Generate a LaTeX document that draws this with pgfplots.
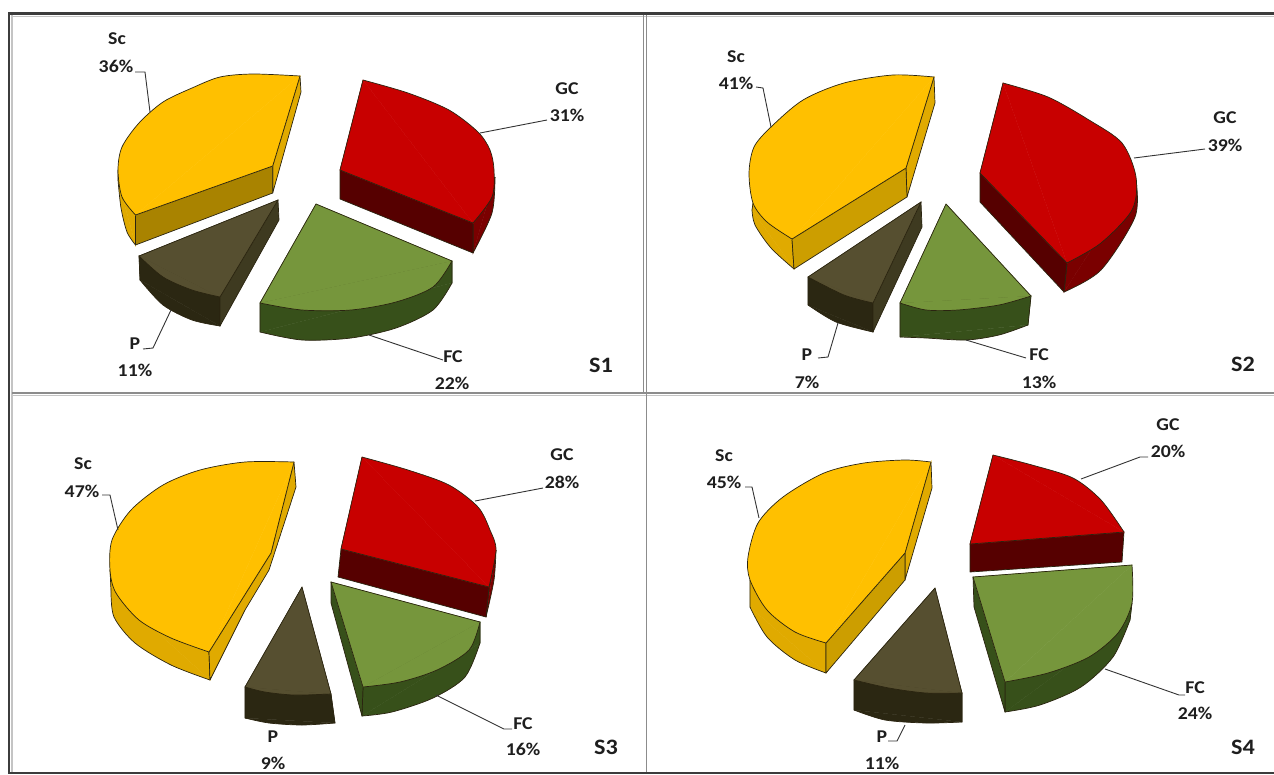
\documentclass[border=0pt]{standalone}
\usepackage{fontspec}
\setmainfont{Carlito}
\usepackage{graphicx}
\usepackage{pgfplots}
\pgfplotsset{compat=1.18}
\definecolor{frameDark}{HTML}{3C3C3C}
\definecolor{frameGrey}{HTML}{8C8C8C}
\definecolor{frameLight}{HTML}{C4C4C4}
\definecolor{edgeC}{HTML}{2A2410}
\definecolor{ScTop}{HTML}{FFC000}
\definecolor{ScIn}{HTML}{A98300}
\definecolor{ScMid}{HTML}{CC9E00}
\definecolor{ScOut}{HTML}{E0AA00}
\definecolor{GCTop}{HTML}{C80000}
\definecolor{GCIn}{HTML}{560000}
\definecolor{GCOut}{HTML}{7A0000}
\definecolor{FCTop}{HTML}{76963C}
\definecolor{FCSide}{HTML}{37501A}
\definecolor{PTop}{HTML}{564F30}
\definecolor{PSide}{HTML}{2B2712}
\definecolor{PIn}{HTML}{3E3A20}
\definecolor{txt}{HTML}{1E1E1E}
\newcommand{\lab}[3]{\node[text=txt,inner sep=0pt,font=\fontsize{18}{18}\selectfont\bfseries] at (axis cs:#1,#2) {\scalebox{1.1}[1]{#3}};}
\newcommand{\tag}[3]{\node[text=txt,inner sep=0pt,font=\fontsize{22}{22}\selectfont\bfseries] at (axis cs:#1,#2) {\scalebox{1.1}[1]{#3}};}
\pgfplotsset{
  face/.style={fill=#1,draw=edgeC,line width=0.7pt,line join=round,mark=none},
  leader/.style={draw=black!80,line width=0.9pt,mark=none},
  rule/.style={draw=#1,mark=none}
}
% a curved piece: #1 colour, #2 the straight outline joining the curve's two ends, #3 the curve
\newcommand{\curved}[3]{%
  \addplot[fill=#1,draw=#1,line width=0.5pt,mark=none] coordinates {#2} --cycle;
  \addplot[fill=#1,draw=edgeC,line width=0.7pt,smooth,mark=none] coordinates {#3};
  \addplot[draw=edgeC,line width=0.7pt,line join=round,mark=none] coordinates {#2};
}
\begin{document}
\begin{tikzpicture}
\path[use as bounding box] (0,0) rectangle (1274pt,774pt);
\begin{axis}[
  scale only axis,width=1274pt,height=774pt,
  xmin=0,xmax=1274,ymin=0,ymax=774,y dir=reverse,
  hide axis,clip=true]

% panel frame
\addplot[rule=frameDark,line width=3pt] coordinates {(8,13) (1274,13)};
\addplot[rule=frameDark,line width=2pt] coordinates {(9,13) (9,774)};
\addplot[rule=frameLight,line width=1.5pt] coordinates {(12,15) (12,774)};
\addplot[rule=frameLight,line width=1pt] coordinates {(12,16) (1274,16)};
\addplot[rule=frameGrey,line width=1.5pt] coordinates {(12,393) (1274,393)};
\addplot[rule=frameLight,line width=1pt] coordinates {(12,395) (1274,395)};
\addplot[rule=frameGrey,line width=1pt] coordinates {(643,15) (643,393)};
\addplot[rule=frameGrey,line width=1pt] coordinates {(646,15) (646,393)};
\addplot[rule=frameGrey,line width=1pt] coordinates {(646,393) (646,774)};
\addplot[rule=frameDark,line width=2pt] coordinates {(9,773) (1274,773)};

% ---------- S1 ----------
\curved{ScOut}{(118,180) (118,170) (135.5,215) (135.5,245)}{(118,180) (121,208) (127,232) (135.5,245)}
\addplot[face=ScOut] coordinates {(300,76) (272.7,166) (272.7,193) (301,92)} --cycle;
\addplot[face=ScIn] coordinates {(135.5,215) (272.7,166) (272.7,193) (135.5,245)} --cycle;
\curved{ScTop}{(300,76) (272.7,166) (135.5,215)}{(300,76) (253,74) (220,77) (192,88) (163,102) (139,123) (122,147) (118,170) (122,197) (135.5,215)}
\curved{GCOut}{(495,177) (473,223) (473,253)}{(495,177) (492,213) (473,253)}
\addplot[face=GCIn] coordinates {(340,170) (473,223) (473,253) (340,199)} --cycle;
\curved{GCTop}{(363,80) (340,170) (473,223)}{(363,80) (408,93) (449,110) (478,132) (490,150) (494,170) (492,197) (473,223)}
\curved{FCSide}{(260,332) (260,303) (452,261) (452,283)}{(260,332) (302,340) (351,338) (396,328) (433,310) (452,283)}
\curved{FCTop}{(452,261) (316,204) (260,303)}{(452,261) (433,287) (396,302) (351,310) (302,310) (260,303)}
\curved{PSide}{(140,280) (139,256) (220,297) (220,326)}{(140,280) (163,305) (192,320) (220,326)}
\addplot[face=PIn] coordinates {(278,200) (220,297) (220,326) (279,220)} --cycle;
\curved{PTop}{(220,297) (278,200) (139,256)}{(220,297) (192,290) (163,277) (139,256)}
\addplot[leader] coordinates {(135,72) (145,72) (150,112)};
\addplot[leader] coordinates {(480,133) (547,120)};
\addplot[leader] coordinates {(369,335) (443,360)};
\addplot[leader] coordinates {(171,310) (153,348) (143,349)};
\lab{117}{39}{Sc}\lab{116}{66}{36\%}
\lab{567}{89}{GC}\lab{567}{115}{31\%}
\lab{453}{357}{FC}\lab{452}{383}{22\%}
\lab{135}{344}{P}\lab{135}{370}{11\%}
\tag{601}{365}{S1}

% ---------- S2 ----------
\curved{ScOut}{(752,210) (753,203) (792,239) (794,269)}{(752,210) (755,225) (771,248) (794,269)}
\addplot[face=ScOut] coordinates {(934,77) (906,168) (907,197) (935,103)} --cycle;
\addplot[face=ScMid] coordinates {(792,239) (906,168) (907,197) (794,269)} --cycle;
\curved{ScTop}{(934,77) (906,168) (792,239)}{(934,77) (893,75) (844,83) (803,100) (771,127) (754,147) (749,173) (753,203) (767,222) (792,239)}
\curved{GCOut}{(1136,180) (1067,263) (1064,292)}{(1136,180) (1135,217) (1101,270) (1064,292)}
\addplot[face=GCIn] coordinates {(980,173) (1067,263) (1064,292) (980,202)} --cycle;
\curved{GCTop}{(1003,83) (980,173) (1067,263)}{(1003,83) (1048,97) (1089,120) (1122,143) (1136,177) (1132,210) (1101,243) (1067,263)}
\curved{FCSide}{(900,337) (900,303) (1031,296) (1028,325)}{(900,337) (926,338) (966,340) (999,335) (1028,325)}
\curved{FCTop}{(1031,296) (946,204) (900,303)}{(1031,296) (999,305) (958,310) (926,310) (900,303)}
\curved{PSide}{(808,305) (808,277) (873,303) (873,332)}{(808,305) (836,322) (873,332)}
\addplot[face=PIn] coordinates {(921,202) (873,303) (873,332) (922,227)} --cycle;
\curved{PTop}{(873,303) (921,202) (808,277)}{(873,303) (844,295) (808,277)}
\addplot[leader] coordinates {(756,87) (763,88) (771,127)};
\addplot[leader] coordinates {(1134,158) (1205,149)};
\addplot[leader] coordinates {(966,340) (1026,358)};
\addplot[leader] coordinates {(838,323) (828,357) (818,358)};
\lab{736}{57}{Sc}\lab{736}{83}{41\%}
\lab{1225}{118}{GC}\lab{1225}{145}{39\%}
\lab{1039}{355}{FC}\lab{1039}{382}{13\%}
\lab{807}{355}{P}\lab{807}{382}{7\%}
\tag{1243}{364}{S2}

% ---------- S3 ----------
\curved{ScOut}{(111,590) (110,570) (209,652) (210,680)}{(111,590) (114,617) (135,643) (171,665) (210,680)}
\addplot[face=ScOut] coordinates {(209,652) (271,553) (294,462) (296,487) (269,570) (245,610) (210,680)} --cycle;
\curved{ScTop}{(294,462) (271,553) (209,652)}{(294,462) (245,462) (200,470) (163,485) (131,510) (112,540) (110,570) (116,593) (139,620) (171,638) (209,652)}
\curved{GCOut}{(496,550) (489,587) (486,617)}{(496,550) (494,580) (486,617)}
\addplot[face=GCIn] coordinates {(341,549) (489,587) (486,617) (338,577)} --cycle;
\curved{GCTop}{(362,457) (341,549) (489,587)}{(362,457) (408,470) (449,485) (478,507) (490,530) (496,550) (489,587)}
\curved{FCSide}{(362,716) (363,687) (480,622) (480,643)}{(362,716) (392,712) (433,698) (465,677) (480,643)}
\addplot[face=FCSide] coordinates {(331,582) (363,687) (362,716) (331,603)} --cycle;
\curved{FCTop}{(480,622) (331,582) (363,687)}{(480,622) (469,650) (437,670) (400,682) (363,687)}
\curved{PSide}{(245,718) (245,687) (331,694) (335,723)}{(245,718) (269,723) (302,725) (335,723)}
\curved{PTop}{(331,694) (302,587) (245,687)}{(331,694) (294,695) (265,692) (245,687)}
\addplot[leader] coordinates {(102,495) (110,495) (118,530)};
\addplot[leader] coordinates {(475,501) (543,488)};
\addplot[leader] coordinates {(436,695) (504,729) (512,729)};
\lab{83}{464}{Sc}\lab{82}{491}{47\%}
\lab{562}{455}{GC}\lab{562}{482}{28\%}
\lab{523}{724}{FC}\lab{523}{749}{16\%}
\lab{273}{737}{P}\lab{273}{763}{9\%}
\tag{606}{747}{S3}

% ---------- S4 ----------
\curved{ScOut}{(750,607) (750,580) (826,643) (826,673)}{(750,607) (767,637) (795,660) (826,673)}
\addplot[face=ScOut] coordinates {(931,462) (905,553) (905,580) (932,488)} --cycle;
\addplot[face=ScMid] coordinates {(826,643) (905,553) (905,580) (826,673)} --cycle;
\curved{ScTop}{(931,462) (905,553) (826,643)}{(931,462) (905,460) (864,463) (824,473) (783,497) (758,523) (748,557) (750,580) (767,610) (795,632) (826,643)}
\addplot[face=GCIn] coordinates {(970,544) (1124,532) (1122,562) (970,572)} --cycle;
\curved{GCTop}{(993,455) (970,544) (1124,532)}{(993,455) (1032,465) (1073,478) (1101,500) (1124,532)}
\curved{FCSide}{(1005,712) (1005,682) (1132,603) (1130,620)}{(1005,712) (1040,705) (1081,687) (1113,657) (1130,620)}
\addplot[face=FCSide] coordinates {(973,577) (1005,682) (1005,712) (974,607)} --cycle;
\curved{FCTop}{(1005,682) (973,577) (1132,565)}{(1132,565) (1132,603) (1118,633) (1089,657) (1048,673) (1005,682)}
\curved{PSide}{(854,710) (854,680) (962,693) (962,722)}{(854,710) (885,720) (926,723) (962,722)}
\curved{PTop}{(962,693) (935,588) (854,680)}{(962,693) (926,693) (889,688) (854,680)}
\addplot[leader] coordinates {(745,487) (752,487) (759,518)};
\addplot[leader] coordinates {(1081,479) (1140,457) (1148,457)};
\addplot[leader] coordinates {(1105,669) (1179,695) (1185,695)};
\addplot[leader] coordinates {(905,725) (897,741) (888,741)};
\lab{724}{456}{Sc}\lab{724}{482}{45\%}
\lab{1168}{425}{GC}\lab{1168}{451}{20\%}
\lab{1195}{688}{FC}\lab{1195}{713}{24\%}
\lab{882}{737}{P}\lab{882}{763}{11\%}
\tag{1243}{747}{S4}
\end{axis}
\end{tikzpicture}
\end{document}
